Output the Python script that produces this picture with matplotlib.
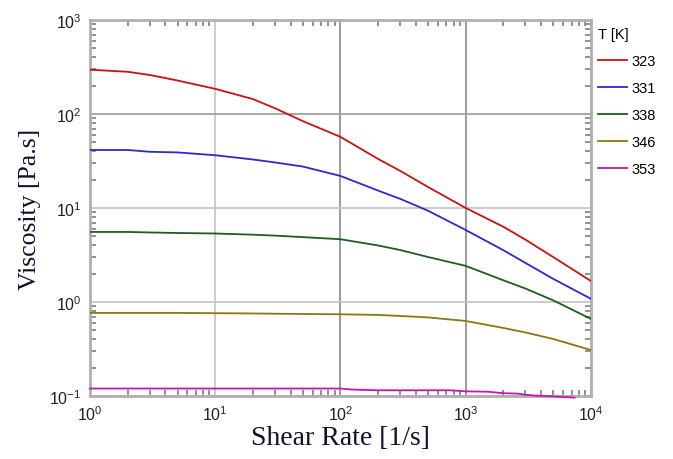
import numpy as np
import matplotlib
matplotlib.use("Agg")
import matplotlib.pyplot as plt
from matplotlib.ticker import LogLocator, NullFormatter

plt.rcParams["axes.unicode_minus"] = False

# shear rate points [1/s] and viscosity [Pa.s] per temperature
shear_rate = [1, 2, 3, 5, 10, 20, 30, 50, 100, 200, 300, 500, 1000, 2000, 3000, 5000, 10000]
visc_323 = [296, 281, 260, 227, 185, 144, 115, 84, 57, 33.2, 24.8, 16.7, 10.0, 6.3, 4.6, 3.0, 1.67]
visc_331 = [41.4, 41.4, 39.6, 39.0, 36.4, 32.8, 30.5, 27.6, 21.9, 15.3, 12.5, 9.35, 5.83, 3.55, 2.6, 1.76, 1.08]
visc_338 = [5.56, 5.56, 5.49, 5.42, 5.35, 5.2, 5.08, 4.9, 4.65, 3.99, 3.57, 3.01, 2.42, 1.7, 1.39, 1.04, 0.66]
visc_346 = [0.765, 0.765, 0.765, 0.765, 0.76, 0.755, 0.75, 0.745, 0.74, 0.728, 0.71, 0.685, 0.628, 0.529, 0.474, 0.404, 0.308]
shear_rate_353 = [1, 10, 100, 124, 200, 750, 1000, 1500, 2000, 2600, 3000, 3600, 5000, 7400]
visc_353 = [0.12, 0.12, 0.12, 0.117, 0.115, 0.115, 0.112, 0.111, 0.107, 0.106, 0.103, 0.101, 0.099, 0.096]

temps = ["323", "331", "338", "346", "353"]
colors = ["#cc1010", "#2a2ad0", "#1d5e1d", "#8a7810", "#c814a8"]

fig = plt.figure(figsize=(6.73, 4.60), dpi=100)
ax = fig.add_axes([0.1337, 0.137, 0.7444, 0.8174])

series = [(shear_rate, visc_323), (shear_rate, visc_331), (shear_rate, visc_338),
          (shear_rate, visc_346), (shear_rate_353, visc_353)]
for (x, y), t, c in zip(series, temps, colors):
    ax.plot(x, y, color=c, lw=1.3, label=t, clip_on=(t != "353"), zorder=3)

ax.set_xscale("log")
ax.set_yscale("log")
ax.set_xlim(1, 1e4)
ax.set_ylim(0.1, 1000)

ax.xaxis.set_major_locator(LogLocator(base=10, numticks=10))
ax.yaxis.set_major_locator(LogLocator(base=10, numticks=10))
ax.xaxis.set_minor_locator(LogLocator(base=10, subs=np.arange(2, 10), numticks=20))
ax.yaxis.set_minor_locator(LogLocator(base=10, subs=np.arange(2, 10), numticks=20))
ax.xaxis.set_minor_formatter(NullFormatter())
ax.yaxis.set_minor_formatter(NullFormatter())

ax.tick_params(which="major", length=0, pad=6, labelsize=11.5, labelcolor="#202020")
ax.tick_params(which="minor", direction="in", length=4, width=1.4, color="#909090",
               top=True, right=True)
for lab in ax.get_xticklabels() + ax.get_yticklabels():
    lab.set_fontfamily("Liberation Sans")

# grid: middle decades drawn darker
ax.grid(which="major", color="#c4c4c4", lw=1.2, zorder=1)
for tick in ax.xaxis.get_major_ticks():
    if tick.get_loc() in (100, 1000):
        tick.gridline.set_color("#8a8a8a")
for tick in ax.yaxis.get_major_ticks():
    if tick.get_loc() == 100:
        tick.gridline.set_color("#9a9a9a")

for sp in ax.spines.values():
    sp.set_color("#b0b0b0")
    sp.set_linewidth(2)

ax.set_xlabel("Shear Rate [1/s]", fontfamily="Liberation Serif", fontsize=20, color="#10102a")
ax.set_ylabel("Viscosity [Pa.s]", fontfamily="Liberation Serif", fontsize=18.5, color="#10102a")
ax.xaxis.set_label_coords(0.5, -0.078)
ax.yaxis.set_label_coords(-0.097, 0.5)

leg = fig.legend(loc="upper left", bbox_to_anchor=(0.889, 0.94), frameon=False,
                 title="T [K]", alignment="left", handlelength=2.0, handletextpad=0.25,
                 labelspacing=0.9, borderpad=0, borderaxespad=0,
                 prop={"family": "Liberation Sans", "size": 10.5},
                 title_fontproperties={"family": "Liberation Sans", "size": 10.5})

fig.savefig("out.png", dpi=100)
